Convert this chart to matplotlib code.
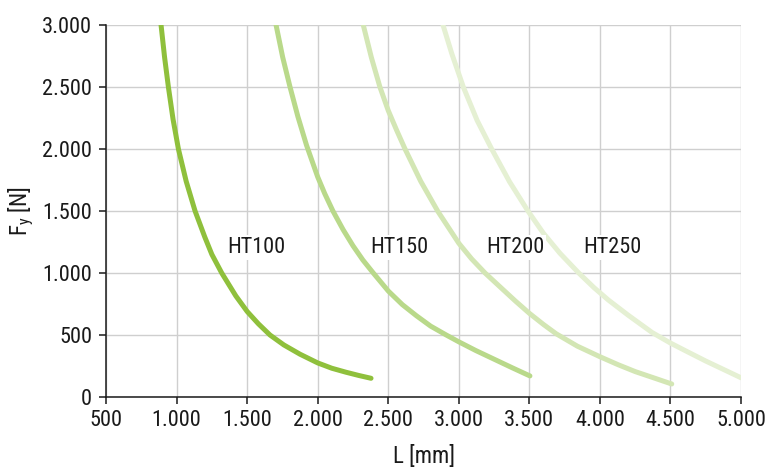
import matplotlib
matplotlib.use("Agg")
import matplotlib.pyplot as plt
from matplotlib import font_manager

# values (L in mm, Fy in N)
ht100_L = [890, 915, 942, 975, 1013, 1068, 1131, 1200, 1250, 1320, 1420, 1500,
           1580, 1662, 1760, 1875, 2000, 2100, 2200, 2290, 2378]
ht100_F = [3000, 2740, 2500, 2240, 2000, 1740, 1500, 1290, 1150, 1000, 815, 690,
           590, 500, 420, 345, 275, 232, 200, 174, 151]

ht150_L = [1705, 1752, 1804, 1860, 1921, 2000, 2050, 2108, 2180, 2250, 2320,
           2394, 2500, 2600, 2700, 2800, 2911, 3000, 3120, 3250, 3380, 3504]
ht150_F = [3000, 2740, 2500, 2260, 2030, 1775, 1640, 1500, 1350, 1220, 1105,
           1000, 855, 745, 655, 572, 500, 445, 375, 305, 235, 170]

ht200_L = [2323, 2380, 2441, 2500, 2560, 2619, 2730, 2850, 2925, 3000, 3090,
           3186, 3300, 3400, 3500, 3600, 3690, 3840, 4000, 4130, 4250, 4380, 4509]
ht200_F = [3000, 2740, 2500, 2310, 2150, 2000, 1740, 1500, 1370, 1240, 1115,
           1000, 880, 775, 675, 585, 510, 410, 325, 260, 205, 155, 105]

ht250_L = [2888, 2950, 3032, 3130, 3233, 3360, 3490, 3600, 3717, 3850, 3960,
           4060, 4200, 4370, 4500, 4620, 4750, 4880, 5000]
ht250_F = [3000, 2770, 2500, 2230, 2000, 1735, 1500, 1320, 1159, 1000, 880,
           782, 660, 520, 435, 365, 290, 220, 155]

series_names = ["HT100", "HT150", "HT200", "HT250"]
series_colors = ["#8fc03c", "#b9d98a", "#d3e6b4", "#e5f0d3"]
label_L = [1357, 2371, 3193, 3880]
label_F = [1202, 1202, 1202, 1202]

x_ticks = [500, 1000, 1500, 2000, 2500, 3000, 3500, 4000, 4500, 5000]
x_tick_labels = ["500", "1.000", "1.500", "2.000", "2.500", "3.000",
                 "3.500", "4.000", "4.500", "5.000"]
y_ticks = [0, 500, 1000, 1500, 2000, 2500, 3000]
y_tick_labels = ["0", "500", "1.000", "1.500", "2.000", "2.500", "3.000"]


def pick_font():
    # the reference uses a condensed face; take the narrowest one installed
    fonts = font_manager.fontManager.ttflist
    names = {f.name for f in fonts}
    for name in ["Roboto Condensed", "Liberation Sans Narrow",
                 "Open Sans Condensed", "Noto Sans Condensed"]:
        if name in names:
            return name, "normal"
    if any(f.name == "DejaVu Sans" and f.stretch == "condensed" for f in fonts):
        return "DejaVu Sans", "condensed"
    return "Liberation Sans", "normal"


font_name, font_stretch = pick_font()
plt.rcParams["font.family"] = [font_name, "DejaVu Sans"]
plt.rcParams["font.stretch"] = font_stretch


def create_graph():
    fig = plt.figure(figsize=(7.66, 4.75), dpi=100)
    ax = fig.add_axes([0.1384, 0.1642, 0.829, 0.7832])

    curves = [(ht100_L, ht100_F), (ht150_L, ht150_F),
              (ht200_L, ht200_F), (ht250_L, ht250_F)]
    for (xs, ys), color in zip(curves, series_colors):
        ax.plot(xs, ys, color=color, lw=3.6, solid_capstyle="round",
                solid_joinstyle="round", zorder=3)

    for name, lx, ly in zip(series_names, label_L, label_F):
        ax.text(lx, ly, name, ha="left", va="center", fontsize=16,
                color="#1a1a1a", zorder=4,
                bbox=dict(facecolor="white", edgecolor="none", pad=1.5))

    ax.set_xlim(500, 5000)
    ax.set_ylim(0, 3000)
    ax.set_xticks(x_ticks)
    ax.set_xticklabels(x_tick_labels)
    ax.set_yticks(y_ticks)
    ax.set_yticklabels(y_tick_labels)
    ax.tick_params(axis="both", direction="out", length=5, width=1.1,
                   color="#1a1a1a", labelsize=16, labelcolor="#1a1a1a")
    ax.tick_params(axis="x", pad=4)
    ax.tick_params(axis="y", pad=5)

    ax.grid(True, color="#cfcfcf", lw=1.0, zorder=0)
    ax.set_axisbelow(True)
    for side in ["top", "right"]:
        ax.spines[side].set_visible(False)
    for side in ["left", "bottom"]:
        ax.spines[side].set_color("#1a1a1a")
        ax.spines[side].set_linewidth(1.1)
        ax.spines[side].set_zorder(5)

    ax.set_xlabel("L [mm]", fontsize=16.5, color="#1a1a1a")
    ax.set_ylabel(r"F$_{\mathregular{y}}$ [N]", fontsize=16.5, color="#1a1a1a")
    ax.xaxis.set_label_coords(0.5, -0.128)
    ax.yaxis.set_label_coords(-0.11, 0.5)

    fig.savefig("out.png", dpi=100)
    plt.close(fig)


if __name__ == "__main__":
    create_graph()
